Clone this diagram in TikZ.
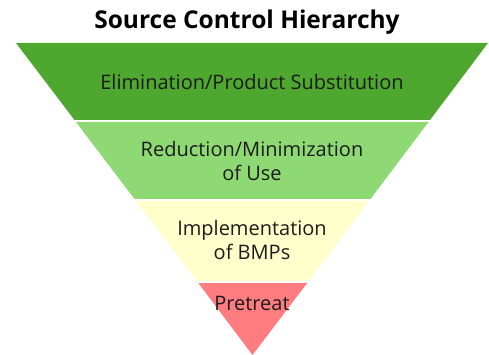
\documentclass[tikz,border=0pt]{standalone}
\usepackage{fontspec}
\setmainfont{Open Sans}
\definecolor{darkgreen}{HTML}{4EA72E}
\definecolor{lightgreen}{HTML}{8ED973}
\definecolor{paleyellow}{HTML}{FFFFCC}
\definecolor{softred}{HTML}{FF7C80}
\definecolor{inktext}{HTML}{1C1C1C}
\tikzset{
	bandtext/.style={text=inktext, align=center, font=\fontsize{20}{24}\selectfont, inner sep=0pt},
	titletext/.style={text=black, font=\bfseries\fontsize{24.5}{28}\selectfont, inner sep=0pt}
}

\begin{document}
\begin{tikzpicture}[x=1pt, y=-1pt]
		%%%%% START %%%%%
		\useasboundingbox (0, 0) rectangle (489, 355);
		
		\node[titletext] (title) at (247, 22) {Source Control Hierarchy};
		
		\fill[darkgreen] (16, 43) -- (488, 43) -- (430, 120) -- (74.5, 120) -- cycle;
		\fill[lightgreen] (76, 122) -- (428.5, 122) -- (370.5, 199) -- (134.5, 199) -- cycle;
		\fill[paleyellow] (136, 201) -- (369, 201) -- (308.7, 281) -- (196.8, 281) -- cycle;
		\fill[softred] (198.3, 283) -- (307.2, 283) -- (252.5, 355) -- cycle;
		
		\node[bandtext] (elimination) at (252, 82) {Elimination/Product Substitution};
		\node[bandtext] (reduction) at (252, 161) {Reduction/Minimization\\of Use};
		\node[bandtext] (bmps) at (252, 240) {Implementation\\of BMPs};
		\node[bandtext] (pretreat) at (252, 303) {Pretreat};
		
		%%%%% END %%%%%
	\end{tikzpicture}
\end{document}
